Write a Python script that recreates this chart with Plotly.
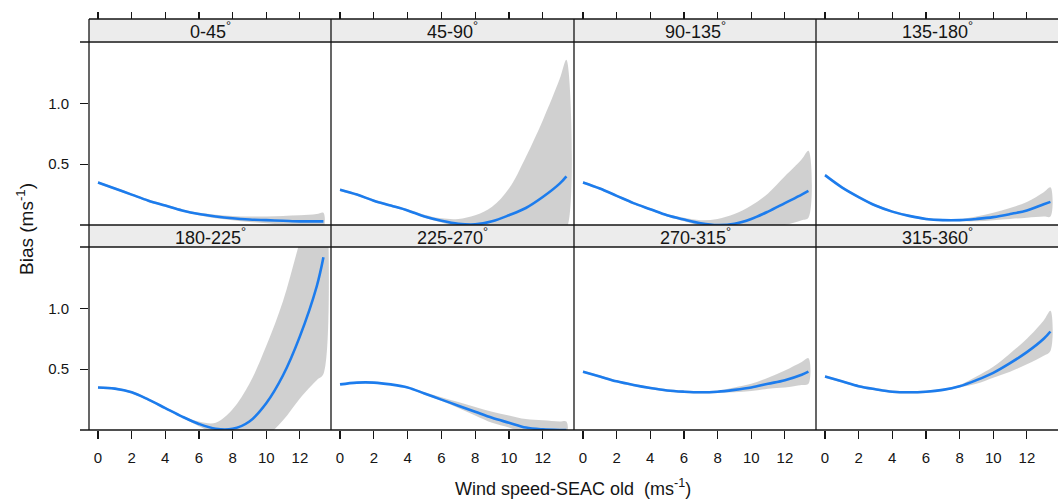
import plotly.graph_objects as go

# ---------------- data ----------------
speed = [0, 1, 2, 3, 4, 5, 6, 7, 8, 9, 10, 11, 12, 13, 13.4]
sectors = ["0-45", "45-90", "90-135", "135-180",
           "180-225", "225-270", "270-315", "315-360"]
x_ticks = [0, 2, 4, 6, 8, 10, 12]
y_ticks = [0.5, 1.0]
y_tick_text = ["0.5", "1.0"]

fit_0_45 = [0.35, 0.30, 0.25, 0.20, 0.16, 0.12, 0.09, 0.07, 0.055, 0.045, 0.04, 0.035, 0.03, 0.03, 0.03]
hi_0_45 = [0.36, 0.31, 0.26, 0.21, 0.17, 0.13, 0.10, 0.085, 0.075, 0.07, 0.07, 0.075, 0.08, 0.09, 0.10]
lo_0_45 = [0.34, 0.29, 0.24, 0.19, 0.15, 0.11, 0.08, 0.055, 0.04, 0.025, 0.015, 0.005, 0.0, -0.01, -0.02]

fit_45_90 = [0.29, 0.25, 0.20, 0.16, 0.12, 0.07, 0.035, 0.01, 0.005, 0.03, 0.08, 0.14, 0.23, 0.34, 0.40]
hi_45_90 = [0.30, 0.26, 0.21, 0.17, 0.13, 0.085, 0.055, 0.05, 0.08, 0.15, 0.30, 0.56, 0.86, 1.20, 1.36]
lo_45_90 = [0.28, 0.24, 0.19, 0.15, 0.11, 0.06, 0.02, -0.02, -0.05, -0.06, -0.06, -0.06, -0.05, -0.04, -0.03]

fit_90_135 = [0.35, 0.30, 0.24, 0.18, 0.13, 0.08, 0.045, 0.015, 0.0, 0.01, 0.05, 0.11, 0.18, 0.25, 0.28]
hi_90_135 = [0.36, 0.31, 0.25, 0.19, 0.14, 0.09, 0.06, 0.04, 0.05, 0.09, 0.16, 0.26, 0.40, 0.54, 0.61]
lo_90_135 = [0.34, 0.29, 0.23, 0.17, 0.12, 0.07, 0.03, -0.01, -0.04, -0.05, -0.04, -0.02, 0.0, 0.04, 0.06]

fit_135_180 = [0.41, 0.31, 0.23, 0.16, 0.11, 0.075, 0.05, 0.04, 0.04, 0.05, 0.065, 0.09, 0.12, 0.17, 0.19]
hi_135_180 = [0.42, 0.32, 0.24, 0.17, 0.12, 0.085, 0.06, 0.05, 0.05, 0.07, 0.10, 0.14, 0.19, 0.27, 0.31]
lo_135_180 = [0.40, 0.30, 0.22, 0.15, 0.10, 0.065, 0.04, 0.03, 0.03, 0.03, 0.04, 0.05, 0.06, 0.07, 0.07]

fit_180_225 = [0.35, 0.34, 0.31, 0.25, 0.18, 0.11, 0.05, 0.01, 0.01, 0.07, 0.22, 0.45, 0.77, 1.18, 1.42]
hi_180_225 = [0.36, 0.35, 0.32, 0.26, 0.19, 0.12, 0.07, 0.06, 0.17, 0.38, 0.69, 1.06, 1.55, 2.00, 2.15]
lo_180_225 = [0.34, 0.33, 0.30, 0.24, 0.17, 0.10, 0.03, -0.04, -0.10, -0.10, -0.05, 0.08, 0.26, 0.41, 0.46]

fit_225_270 = [0.375, 0.39, 0.39, 0.375, 0.35, 0.30, 0.25, 0.20, 0.15, 0.10, 0.06, 0.02, 0.005, 0.0, 0.0]
hi_225_270 = [0.38, 0.395, 0.395, 0.38, 0.355, 0.31, 0.27, 0.23, 0.19, 0.15, 0.12, 0.09, 0.08, 0.07, 0.07]
lo_225_270 = [0.37, 0.385, 0.385, 0.37, 0.345, 0.29, 0.24, 0.18, 0.12, 0.06, 0.02, -0.03, -0.05, -0.06, -0.06]

fit_270_315 = [0.48, 0.44, 0.40, 0.37, 0.345, 0.325, 0.315, 0.31, 0.315, 0.33, 0.35, 0.38, 0.41, 0.455, 0.48]
hi_270_315 = [0.49, 0.45, 0.41, 0.38, 0.355, 0.335, 0.325, 0.32, 0.325, 0.35, 0.38, 0.43, 0.49, 0.56, 0.59]
lo_270_315 = [0.47, 0.43, 0.39, 0.36, 0.335, 0.315, 0.305, 0.30, 0.305, 0.31, 0.32, 0.34, 0.35, 0.37, 0.38]

fit_315_360 = [0.44, 0.40, 0.36, 0.335, 0.315, 0.31, 0.315, 0.33, 0.36, 0.41, 0.47, 0.55, 0.64, 0.75, 0.81]
hi_315_360 = [0.45, 0.41, 0.37, 0.345, 0.325, 0.32, 0.325, 0.34, 0.37, 0.44, 0.52, 0.63, 0.75, 0.90, 0.98]
lo_315_360 = [0.43, 0.39, 0.35, 0.325, 0.305, 0.30, 0.305, 0.32, 0.35, 0.38, 0.43, 0.48, 0.54, 0.61, 0.65]

fits = [fit_0_45, fit_45_90, fit_90_135, fit_135_180,
        fit_180_225, fit_225_270, fit_270_315, fit_315_360]
his = [hi_0_45, hi_45_90, hi_90_135, hi_135_180,
       hi_180_225, hi_225_270, hi_270_315, hi_315_360]
los = [lo_0_45, lo_45_90, lo_90_135, lo_135_180,
       lo_180_225, lo_225_270, lo_270_315, lo_315_360]

# ---------------- layout geometry (pixels) ----------------
W, H = 1058, 503
col_left = [89, 331, 574, 816]
col_right = [331, 574, 816, 1058]
row_top = [42, 247]
row_bot = [225, 430]
strip_top = [19, 225]
x_range = [-0.535, 13.85]
y_range = [0, 1.505]

FONT = "Liberation Sans, Arial, sans-serif"
INK = "#151515"
BLUE = "#1c7ced"
BAND = "rgba(200,200,200,0.85)"
STRIP = "#ececec"


def px(x):
    return x / W


def py(y):
    return 1 - y / H


fig = go.Figure()
layout = dict(
    width=W, height=H, autosize=False,
    margin=dict(l=0, r=0, t=0, b=0),
    paper_bgcolor="white", plot_bgcolor="white",
    showlegend=False,
    font=dict(family=FONT, color=INK, size=15),
)

shapes = []
annotations = []

for i, name in enumerate(sectors):
    r, c = divmod(i, 4)
    n = i + 1
    xa = "x" if n == 1 else f"x{n}"
    ya = "y" if n == 1 else f"y{n}"

    # confidence band
    fig.add_trace(go.Scatter(
        x=speed + speed[::-1], y=his[i] + los[i][::-1],
        xaxis=xa, yaxis=ya, mode="lines", fill="toself",
        fillcolor=BAND, line=dict(width=0, shape="spline"),
        hoverinfo="skip"))
    # fitted line
    fig.add_trace(go.Scatter(
        x=speed, y=fits[i], xaxis=xa, yaxis=ya, mode="lines",
        line=dict(color=BLUE, width=2.6, shape="spline")))

    xdict = dict(
        domain=[px(col_left[c]), px(col_right[c])], range=x_range,
        showgrid=False, zeroline=False, showline=False,
        tickvals=x_ticks, ticks="outside", ticklen=8, tickwidth=1.2,
        tickcolor=INK, fixedrange=True,
    )
    if r == 1:
        xdict.update(anchor=ya, side="bottom", showticklabels=True,
                     tickfont=dict(size=15, family=FONT, color=INK),
                     ticklabelstandoff=6)
    else:
        xdict.update(anchor="free", position=py(strip_top[0]), side="top",
                     showticklabels=False, ticklen=7)
    layout["xaxis" if n == 1 else f"xaxis{n}"] = xdict

    ydict = dict(
        domain=[py(row_bot[r]), py(row_top[r])], range=y_range,
        anchor=xa, showgrid=False, zeroline=False, showline=False,
        fixedrange=True,
    )
    if c == 0:
        ydict.update(tickvals=y_ticks, ticktext=y_tick_text,
                     ticks="outside", ticklen=8, tickwidth=1.2,
                     tickcolor=INK, showticklabels=True,
                     tickfont=dict(size=15, family=FONT, color=INK),
                     ticklabelstandoff=8)
    else:
        ydict.update(showticklabels=False, ticks="")
    layout["yaxis" if n == 1 else f"yaxis{n}"] = ydict

    # strip background + label
    shapes.append(dict(type="rect", xref="paper", yref="paper",
                       x0=px(col_left[c]), x1=px(col_right[c]),
                       y0=py(strip_top[r] + 22), y1=py(strip_top[r]),
                       fillcolor=STRIP, line=dict(width=0), layer="below"))
    annotations.append(dict(
        text=f"{name}<sup>°</sup>", xref="paper", yref="paper",
        x=px((col_left[c] + col_right[c]) / 2), y=py(strip_top[r] + 11.5),
        showarrow=False, xanchor="center", yanchor="middle",
        font=dict(size=18, family=FONT, color=INK)))

# panel borders
LINE = dict(color=INK, width=1.3)
for yline, x0 in [(19, 89), (42, 80), (225, 80), (247, 80), (430, 80)]:
    shapes.append(dict(type="line", xref="paper", yref="paper",
                       x0=px(x0), x1=1, y0=py(yline), y1=py(yline),
                       line=LINE, layer="above"))
for xline in col_left:
    shapes.append(dict(type="line", xref="paper", yref="paper",
                       x0=px(xline), x1=px(xline), y0=py(19), y1=py(430),
                       line=LINE, layer="above"))

# axis titles
annotations.append(dict(
    text="Wind speed-SEAC old  (ms<sup>-1</sup>)", xref="paper", yref="paper",
    x=px(573), y=py(487), showarrow=False, xanchor="center", yanchor="middle",
    font=dict(size=18, family=FONT, color=INK)))
annotations.append(dict(
    text="Bias (ms<sup>-1</sup>)", xref="paper", yref="paper",
    x=px(25), y=py(229), showarrow=False, xanchor="center", yanchor="middle",
    textangle=-90, font=dict(size=19, family=FONT, color=INK)))

layout["shapes"] = shapes
layout["annotations"] = annotations
fig.update_layout(**layout)

fig.write_html(
    "out.html",
    config={"displayModeBar": False, "staticPlot": True},
    post_script="document.body.style.margin='0px';"
                "document.body.style.overflow='hidden';",
)
